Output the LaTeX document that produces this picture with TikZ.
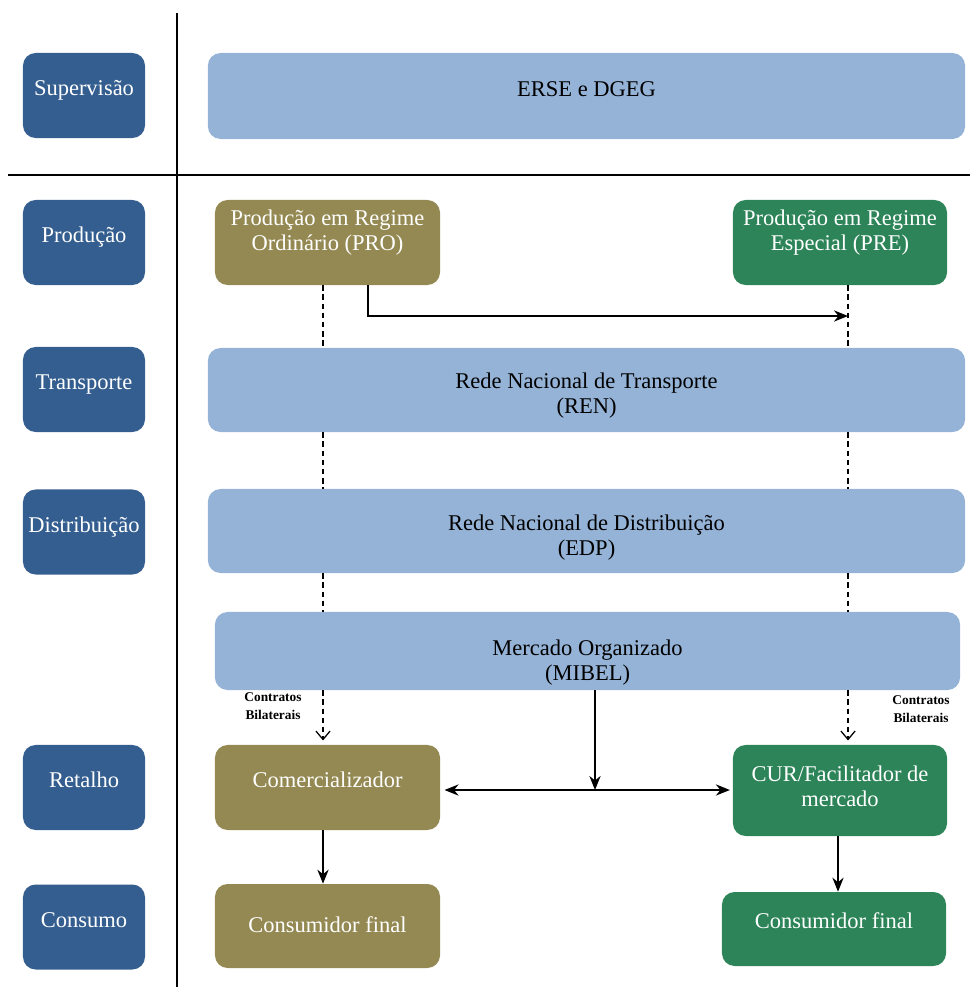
\documentclass[tikz,border=0pt]{standalone}
\usepackage{fontspec}
\setmainfont{Liberation Serif}
\usetikzlibrary{arrows.meta}
\usetikzlibrary{positioning}

\definecolor{levelblue}{RGB}{52,94,143}
\definecolor{netblue}{RGB}{149,179,215}
\definecolor{proolive}{RGB}{148,137,82}
\definecolor{pregreen}{RGB}{44,132,88}

% struts to move two-line texts inside their boxes
\newcommand{\pushdown}[1]{\rule{0pt}{#1}}
\newcommand{\pushup}[1]{\rule[-#1]{0pt}{#1}}

\begin{document}
\begin{tikzpicture}[x=0.025cm,y=-0.025cm,
  box/.style={rectangle,rounded corners=9pt,align=center,inner sep=2pt,font=\fontsize{16}{17.8}\selectfont},
  level/.style={box,fill=levelblue,text=white,minimum width=3.05cm,minimum height=2.125cm,text height=12pt,text depth=11.6pt},
  net/.style={box,fill=netblue,text=black,minimum width=18.925cm,minimum height=2.1cm},
  agent/.style={box,text=white,minimum width=5.625cm,minimum height=2.125cm},
  note/.style={align=center,font=\fontsize{9.5}{12.5}\selectfont\bfseries},
  tip/.style={-{Stealth[length=10pt,width=8pt]}},
  dashline/.style={line width=0.9pt,dash pattern=on 4pt off 2.5pt}]

  \useasboundingbox (0,0) rectangle (970,987);

  % axes
  \coordinate (axtop) at (177,13);
  \coordinate (axbot) at (177,987);
  \coordinate (axleft) at (8,175);
  \coordinate (axright) at (970,175);
  \draw [line width=1.2pt] (axtop) -- (axbot);
  \draw [line width=1.2pt] (axleft) -- (axright);

  % levels
  \node [level] (sup) at (84,95.5) {Supervisão};
  \node [level] (prod) at (84,242.5) {Produção};
  \node [level] (trans) at (84,389.5) {Transporte};
  \node [level] (dist) at (84,532) {Distribuição};
  \node [level] (ret) at (84,787.5) {Retalho};
  \node [level] (cons) at (84,927) {Consumo};

  % agents
  \node [net,minimum height=2.15cm,text height=12pt,text depth=11.5pt] (erse) at (586.5,96) {ERSE e DGEG};
  \node [agent,fill=proolive] (pro) at (327.5,242.5) {Produção em Regime\\Ordinário (PRO)\\\phantom{X}};
  \node [agent,fill=pregreen,minimum width=5.35cm] (pre) at (840,242.5) {Produção em Regime\\Especial (PRE)\\\phantom{X}};
  \node [net] (ren) at (586.5,390) {\pushdown{19.5pt}Rede Nacional de Transporte\\(REN)};
  \node [net] (edp) at (586.5,531) {\pushdown{20pt}Rede Nacional de Distribuição\\(EDP)};
  \node [net,minimum width=18.625cm,minimum height=1.95cm] (mibel) at (587.5,651) {\pushdown{27pt}Mercado Organizado\\(MIBEL)};
  \node [agent,fill=proolive,text height=12pt,text depth=12.2pt] (com) at (327.5,787.5) {Comercializador};
  \node [agent,fill=pregreen,minimum width=5.35cm,minimum height=2.275cm] (cur) at (840,790.5) {CUR/Facilitador de\\mercado\pushup{6.4pt}};
  \node [agent,fill=proolive,minimum height=2.1cm,text height=12pt,text depth=3pt] (consl) at (327.5,926) {Consumidor final};
  \node [agent,fill=pregreen,minimum width=5.6cm,minimum height=1.85cm,text height=12pt,text depth=13pt] (consr) at (834,929) {Consumidor final};

  \node [note] (bilatl) at (273,706) {Contratos\\Bilaterais};
  \node [note] (bilatr) at (921,709) {Contratos\\Bilaterais};

  % flows
  \coordinate (leftline) at (323,0);
  \coordinate (rightline) at (848,0);
  \coordinate (curline) at (838,0);
  \coordinate (split) at (368,316);
  \coordinate (market) at (595,790);

  \path [draw,dashline]
    (pro.south -| leftline) -- (ren.north -| leftline)
    (ren.south -| leftline) -- (edp.north -| leftline)
    (edp.south -| leftline) -- (mibel.north -| leftline)
    (pre.south -| rightline) -- (ren.north -| rightline)
    (ren.south -| rightline) -- (edp.north -| rightline)
    (edp.south -| rightline) -- (mibel.north -| rightline);

  \draw [dashline,-{Straight Barb[length=6pt,width=10pt]},shorten >=3pt]
    (mibel.south -| leftline) -- (com.north -| leftline);
  \draw [dashline,-{Straight Barb[length=6pt,width=10pt]},shorten >=3pt]
    (mibel.south -| rightline) -- (cur.north -| rightline);

  \draw [line width=1pt,tip] (pro.south -| split) |- (split -| rightline);
  \draw [line width=1pt,tip] (mibel.south -| market) -- (market);
  \draw [line width=1pt,tip] (com.south -| leftline) -- (consl.north -| leftline);
  \draw [line width=1pt,tip] (cur.south -| curline) -- (consr.north -| curline);
  \draw [line width=1pt,{Stealth[length=10pt,width=8pt]}-{Stealth[length=10pt,width=8pt]},shorten <=3pt,shorten >=2pt]
    (com.east |- market) -- (cur.west |- market);

\end{tikzpicture}
\end{document}
